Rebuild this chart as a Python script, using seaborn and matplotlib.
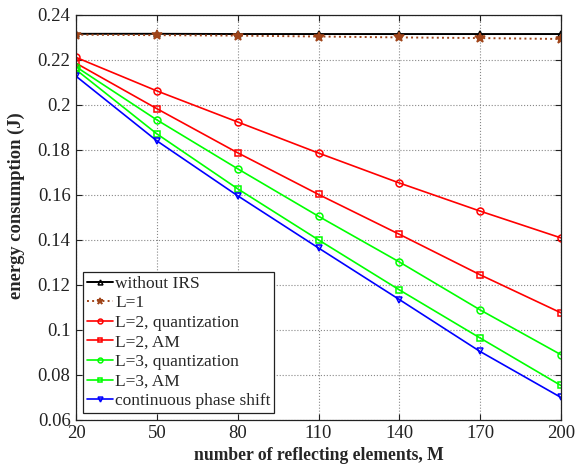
import matplotlib
matplotlib.use("Agg")
import matplotlib.pyplot as plt
import seaborn as sns
import pandas as pd

M = [20, 50, 80, 110, 140, 170, 200]
without_irs = [0.2316, 0.2316, 0.2315, 0.2315, 0.2315, 0.2315, 0.2315]
l1 = [0.2312, 0.2310, 0.2308, 0.2304, 0.2300, 0.2297, 0.2293]
l2_quant = [0.2211, 0.2062, 0.1924, 0.1786, 0.1653, 0.1528, 0.1409]
l2_am = [0.2185, 0.1983, 0.1787, 0.1602, 0.1425, 0.1245, 0.1076]
l3_quant = [0.2169, 0.1933, 0.1716, 0.1505, 0.1302, 0.1089, 0.0890]
l3_am = [0.2156, 0.1871, 0.1627, 0.1400, 0.1178, 0.0964, 0.0753]
cont = [0.2127, 0.1840, 0.1596, 0.1364, 0.1135, 0.0904, 0.0700]

labels = ["without IRS", "L=1", "L=2, quantization", "L=2, AM",
          "L=3, quantization", "L=3, AM", "continuous phase shift"]
series = [without_irs, l1, l2_quant, l2_am, l3_quant, l3_am, cont]

sns.set_style("ticks")
plt.rcParams['font.family'] = ['Liberation Serif', 'DejaVu Serif']
plt.rcParams['mathtext.fontset'] = 'stix'

fig = plt.figure(figsize=(5.77, 4.66), dpi=100)
ax = fig.add_axes([0.132, 0.099, 0.840, 0.869])

styles = [
    dict(color="black", marker="^", ls="-", mfc="none", ms=5, lw=1.4),
    dict(color="#A0451A", marker="*", ls=":", mfc="#A0451A", ms=7, lw=1.4),
    dict(color="red", marker="o", ls="-", mfc="none", ms=5, lw=1.2),
    dict(color="red", marker="s", ls="-", mfc="none", ms=4.5, lw=1.2),
    dict(color="#00FF00", marker="o", ls="-", mfc="none", ms=5, lw=1.2),
    dict(color="#00FF00", marker="s", ls="-", mfc="none", ms=4.5, lw=1.2),
    dict(color="blue", marker="v", ls="-", mfc="none", ms=5, lw=1.2),
]

for lab, vals, st in zip(labels, series, styles):
    df = pd.DataFrame({"M": M, "E": vals})
    sns.lineplot(data=df, x="M", y="E", ax=ax, label=lab, color=st["color"],
                 marker=st["marker"], linestyle=st["ls"], markersize=st["ms"],
                 linewidth=st["lw"], markerfacecolor=st["mfc"],
                 markeredgecolor=st["color"], markeredgewidth=1.1)

ax.set_xlim(20, 200)
ax.set_ylim(0.06, 0.24)
ax.set_xticks(M)
ax.set_xticklabels([str(m) for m in M])
yt = [0.06, 0.08, 0.1, 0.12, 0.14, 0.16, 0.18, 0.2, 0.22, 0.24]
ax.set_yticks(yt)
ax.set_yticklabels(["0.06", "0.08", "0.1", "0.12", "0.14", "0.16", "0.18", "0.2", "0.22", "0.24"])
ax.grid(True, linestyle=":", color="#888888", linewidth=0.8)
ax.tick_params(direction="in", labelsize=13.5, length=4, top=True, right=True,
               labeltop=False, labelright=False, colors="#222222", pad=4)
for s in ax.spines.values():
    s.set_visible(True)
    s.set_color("#222222")
    s.set_linewidth(0.9)

ax.set_xlabel("number of reflecting elements, M", fontsize=12.7, fontweight="bold", labelpad=3)
ax.set_ylabel("energy consumption (J)", fontsize=13.3, fontweight="bold")
ax.yaxis.set_label_coords(-0.105, 0.53)

handles, labs = ax.get_legend_handles_labels()
leg = ax.legend(handles, labs, loc="lower left", fontsize=12.5, frameon=True, fancybox=False,
                edgecolor="#222222", framealpha=1, borderpad=0.2,
                labelspacing=0.2, handlelength=1.5, handletextpad=0.15,
                borderaxespad=0.4, markerscale=0.7)
leg.get_frame().set_linewidth(0.9)

fig.savefig("out.png", dpi=100)
